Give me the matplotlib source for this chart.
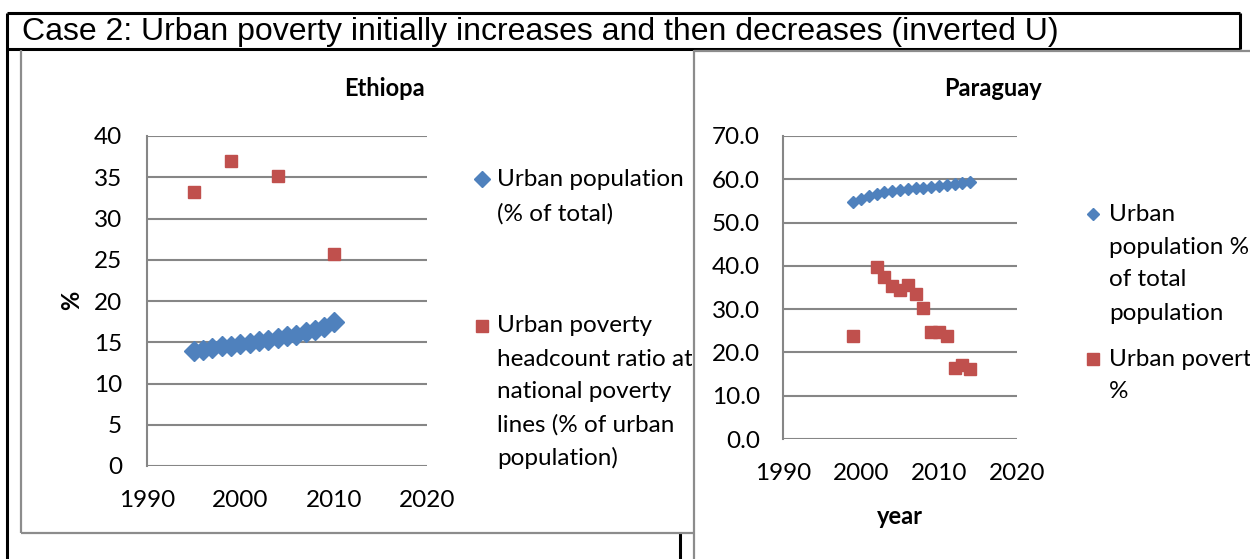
import matplotlib
matplotlib.use("Agg")
import matplotlib.pyplot as plt
from matplotlib.transforms import Bbox
from matplotlib.lines import Line2D

# ---------------- data ----------------
eth_pop_years = list(range(1995, 2011))
eth_pop = [13.9, 14.1, 14.3, 14.5, 14.6, 14.8, 14.9, 15.1, 15.3, 15.5, 15.7, 15.9, 16.2, 16.5, 16.9, 17.4]
eth_pov_years = [1995, 1999, 2004, 2010]
eth_pov = [33.2, 37.0, 35.1, 25.7]

par_pop_years = list(range(1999, 2015))
par_pop = [54.8, 55.4, 56.2, 56.7, 57.1, 57.3, 57.5, 57.7, 57.9, 58.1, 58.3, 58.5, 58.7, 58.9, 59.1, 59.3]
par_pov_years = [1999, 2002, 2003, 2004, 2005, 2006, 2007, 2008, 2009, 2010, 2011, 2012, 2013, 2014]
par_pov = [23.9, 39.8, 37.5, 35.4, 34.4, 35.6, 33.6, 30.2, 24.8, 24.8, 23.9, 16.5, 17.2, 16.2]

x_ticks = [1990, 2000, 2010, 2020]
eth_y_ticks = [0, 5, 10, 15, 20, 25, 30, 35, 40]
par_y_ticks = [0, 10, 20, 30, 40, 50, 60, 70]

page_title = "Case 2: Urban poverty initially increases and then decreases (inverted U)"
eth_title = "Ethiopa"
par_title = "Paraguay"
eth_legend_pop = ["Urban population", "(% of total)"]
eth_legend_pov = ["Urban poverty", "headcount ratio at", "national poverty", "lines (% of urban", "population)"]
par_legend_pop = ["Urban", "population %", "of total", "population"]
par_legend_pov = ["Urban poverty", "%"]

BLUE = "#4F81BD"
RED = "#C0504D"
GRID = "#868686"
FONT = "Lato"
TICK_FS = 17.5
LEG_FS = 17.5

W, H = 1250, 559
fig = plt.figure(figsize=(W / 100, H / 100), dpi=100)
fig.patch.set_facecolor("white")


def fx(x):
    return x / W


def fy(y):
    return 1 - y / H


def add_axes_px(x0, y0, x1, y1):
    return fig.add_axes([fx(x0), fy(y1), fx(x1) - fx(x0), fy(y0) - fy(y1)])


def line_px(xs, ys, color, lw):
    fig.add_artist(Line2D([fx(v) for v in xs], [fy(v) for v in ys],
                          transform=fig.transFigure, color=color, lw=lw,
                          solid_capstyle="butt"))


# ---------------- frames ----------------
line_px([7, 1240], [13, 13], "black", 2.2)
line_px([7, 1240], [49, 49], "black", 2.2)
line_px([1240, 1240], [13, 49], "black", 2.2)
line_px([7, 7], [13, 559], "black", 2.2)
line_px([680, 680], [533, 559], "black", 2.2)
# chart frames (grey)
line_px([21, 21], [50, 533], "#8c8c8c", 1.6)
line_px([21, 694], [533, 533], "#8c8c8c", 1.6)
line_px([694, 694], [50, 559], "#8c8c8c", 1.6)
line_px([694, 1250], [51, 51], "#8c8c8c", 1.6)

fig.text(fx(22), fy(32), page_title, family="Liberation Sans", fontsize=23,
         va="center", ha="left", color="black")


def style_axes(ax, xlim, ylim, yticks, yfmt, ypad, xpad):
    ax.set_xlim(*xlim)
    ax.set_ylim(*ylim)
    ax.set_xticks(x_ticks)
    ax.set_yticks(yticks)
    ax.set_yticklabels([yfmt.format(v) for v in yticks])
    ax.grid(axis="y", color=GRID, lw=1.5)
    ax.set_axisbelow(True)
    for s in ["top", "right", "bottom"]:
        ax.spines[s].set_visible(False)
    ax.spines["left"].set_color(GRID)
    ax.spines["left"].set_linewidth(1.5)
    ax.tick_params(axis="both", length=0, labelsize=TICK_FS)
    ax.tick_params(axis="x", pad=xpad)
    ax.tick_params(axis="y", pad=ypad)
    for lab in ax.get_xticklabels() + ax.get_yticklabels():
        lab.set_family(FONT)
    ax.set_facecolor("none")


# ---------------- Ethiopia ----------------
ax1 = add_axes_px(147, 136, 427, 466)
style_axes(ax1, (1990, 2020), (0, 40), eth_y_ticks, "{:d}", 18, 17)
ax1.plot(eth_pov_years, eth_pov, ls="none", marker="s", ms=9, color=RED, mec=RED)
ax1.plot(eth_pop_years, eth_pop, ls="none", marker="D", ms=10, color=BLUE, mec=BLUE)
fig.text(fx(384), fy(88), eth_title, family=FONT, fontweight="bold", fontsize=17,
         ha="center", va="center")
fig.text(fx(72), fy(300), "%", family=FONT, fontweight="bold", fontsize=17,
         ha="center", va="center", rotation=90)

# ---------------- Paraguay ----------------
ax2 = add_axes_px(783, 136, 1017, 439)
style_axes(ax2, (1990, 2020), (0, 70), par_y_ticks, "{:.1f}", 16.5, 17)
ax2.plot(par_pop_years, par_pop, ls="none", marker="D", ms=6, color=BLUE, mec=BLUE)
ax2.plot(par_pov_years, par_pov, ls="none", marker="s", ms=9, color=RED, mec=RED)
fig.text(fx(993), fy(88), par_title, family=FONT, fontweight="bold", fontsize=17,
         ha="center", va="center")
fig.text(fx(900), fy(516), "year", family=FONT, fontweight="bold", fontsize=17,
         ha="center", va="center")

# ---------------- legends (clipped by chart frames, as in the reference) ----------------
left_clip = Bbox.from_extents(21, 0, 692, H)
right_clip = Bbox.from_extents(695, 0, W, H)


def legend_entry(x_marker, x_text, y0, lines, marker, ms, color, clip, spacing=33):
    fig.add_artist(Line2D([fx(x_marker)], [fy(y0)], transform=fig.transFigure,
                          ls="none", marker=marker, ms=ms, color=color, mec=color))
    for i, t in enumerate(lines):
        txt = fig.text(fx(x_text), fy(y0 + i * spacing), t, family=FONT, fontsize=LEG_FS,
                       ha="left", va="center", color="black")
        txt.set_clip_box(clip)
        txt.set_clip_on(True)


legend_entry(482, 497, 179, eth_legend_pop, "D", 8.5, BLUE, left_clip, 35)
legend_entry(482, 497, 326, eth_legend_pov, "s", 8.5, RED, left_clip, 33)
legend_entry(1093, 1109, 214, par_legend_pop, "D", 6, BLUE, right_clip, 33)
legend_entry(1093, 1109, 359, par_legend_pov, "s", 8.5, RED, right_clip, 33)

fig.savefig("out.png", dpi=100, facecolor="white")
